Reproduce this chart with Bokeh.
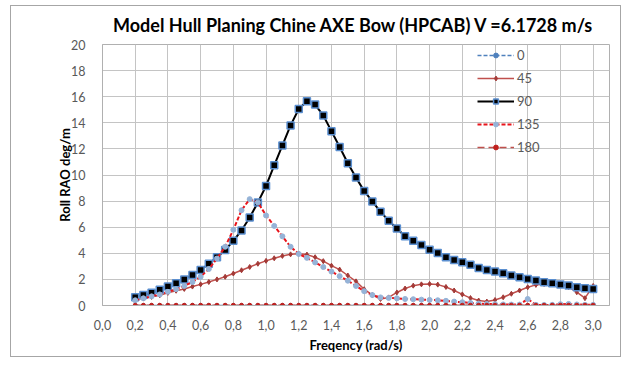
from bokeh.plotting import figure
from bokeh.models import (FixedTicker, CustomJSTickFormatter, Legend, LegendItem, Range1d)
from bokeh.embed import file_html
from bokeh.resources import INLINE

# ---------------- data ----------------
freq = [0.20, 0.25, 0.30, 0.35, 0.40, 0.45, 0.50, 0.55, 0.60, 0.65,
        0.70, 0.75, 0.80, 0.85, 0.90, 0.95, 1.00, 1.05, 1.10, 1.15,
        1.20, 1.25, 1.30, 1.35, 1.40, 1.45, 1.50, 1.55, 1.60, 1.65,
        1.70, 1.75, 1.80, 1.85, 1.90, 1.95, 2.00, 2.05, 2.10, 2.15,
        2.20, 2.25, 2.30, 2.35, 2.40, 2.45, 2.50, 2.55, 2.60, 2.65,
        2.70, 2.75, 2.80, 2.85, 2.90, 2.95, 3.00]

rao_0 = [0.00, 0.00, 0.00, 0.00, 0.00, 0.00, 0.00, 0.00, 0.00, 0.00,
         0.00, 0.00, 0.00, 0.00, 0.00, 0.00, 0.00, 0.00, 0.00, 0.00,
         0.00, 0.00, 0.00, 0.00, 0.00, 0.00, 0.00, 0.00, 0.00, 0.00,
         0.00, 0.00, 0.00, 0.00, 0.00, 0.00, 0.00, 0.00, 0.00, 0.00,
         0.00, 0.00, 0.00, 0.00, 0.00, 0.00, 0.00, 0.00, 0.00, 0.00,
         0.00, 0.00, 0.00, 0.00, 0.00, 0.00, 0.00]

rao_45 = [0.45, 0.55, 0.66, 0.78, 0.97, 1.13, 1.27, 1.45, 1.62, 1.80,
          2.00, 2.20, 2.45, 2.70, 2.95, 3.20, 3.42, 3.62, 3.80, 3.92,
          3.97, 3.90, 3.70, 3.40, 3.05, 2.75, 2.30, 1.85, 1.25, 0.80,
          0.50, 0.62, 1.00, 1.30, 1.52, 1.62, 1.65, 1.60, 1.42, 1.15,
          0.85, 0.57, 0.38, 0.30, 0.42, 0.63, 0.90, 1.15, 1.40, 1.58,
          1.65, 1.65, 1.58, 1.40, 1.02, 0.56, 1.50]

rao_90 = [0.64, 0.81, 0.97, 1.20, 1.45, 1.70, 2.00, 2.34, 2.72, 3.20,
          3.70, 4.25, 4.96, 5.75, 6.74, 7.90, 9.16, 10.74, 12.27, 13.80,
          15.06, 15.65, 15.40, 14.56, 13.36, 12.14, 10.90, 9.80, 8.78, 7.97,
          7.18, 6.50, 5.90, 5.30, 4.96, 4.63, 4.27, 4.02, 3.69, 3.49,
          3.31, 3.13, 2.87, 2.72, 2.60, 2.47, 2.29, 2.16, 2.03, 1.91,
          1.78, 1.70, 1.60, 1.53, 1.40, 1.32, 1.27]

rao_135 = [0.40, 0.55, 0.70, 0.85, 1.05, 1.25, 1.50, 1.80, 2.20, 2.80,
           3.60, 4.50, 5.80, 7.30, 8.15, 7.90, 6.90, 6.10, 5.30, 4.50,
           3.95, 3.65, 3.30, 2.95, 2.60, 2.25, 1.90, 1.50, 1.10, 0.80,
           0.62, 0.58, 0.55, 0.50, 0.48, 0.45, 0.43, 0.40, 0.36, 0.30,
           0.25, 0.20, 0.15, 0.12, 0.10, 0.08, 0.07, 0.07, 0.50, 0.05,
           0.04, 0.05, 0.10, 0.12, 0.08, 0.05, 0.05]

rao_180 = [0.02, 0.02, 0.02, 0.02, 0.02, 0.02, 0.02, 0.02, 0.02, 0.02,
           0.02, 0.02, 0.02, 0.02, 0.02, 0.02, 0.02, 0.02, 0.02, 0.02,
           0.02, 0.02, 0.02, 0.02, 0.02, 0.02, 0.02, 0.02, 0.02, 0.02,
           0.02, 0.02, 0.02, 0.02, 0.02, 0.02, 0.02, 0.02, 0.02, 0.02,
           0.02, 0.02, 0.02, 0.02, 0.02, 0.02, 0.02, 0.02, 0.02, 0.02,
           0.02, 0.02, 0.02, 0.02, 0.02, 0.02, 0.02]

x_ticks = [0.0, 0.2, 0.4, 0.6, 0.8, 1.0, 1.2, 1.4, 1.6, 1.8, 2.0, 2.2, 2.4, 2.6, 2.8, 3.0]
y_ticks = [0, 2, 4, 6, 8, 10, 12, 14, 16, 18, 20]

title = "Model Hull Planing Chine AXE Bow  (HPCAB) V =6.1728 m/s"
x_label = "Freqency (rad/s)"
y_label = "Roll RAO deg/m"

FONT = "Lato"

# ---------------- figure ----------------
# the chart sits inside a 1px grey box from (10,5) to (622,358) of the window
p = figure(width=611, height=352, output_backend="svg", toolbar_location=None,
           x_range=Range1d(0, 3.1), y_range=Range1d(0, 20),
           min_border_left=91, min_border_right=13,
           min_border_top=37, min_border_bottom=53,
           background_fill_color="white", border_fill_color="white",
           styles={"border": "1px solid #a6a6a6", "margin-left": "10px",
                   "margin-top": "5px"})

p.title.text = title
p.title.text_font = FONT
p.title.text_font_size = "18px"
p.title.text_font_style = "bold"
p.title.text_color = "#000000"
p.title.align = "center"
p.title.vertical_align = "top"
p.title.standoff = 14

p.outline_line_color = "#b0b0b0"
p.outline_line_width = 1

for ax in (p.xaxis[0], p.yaxis[0]):
    ax.axis_line_color = "#b0b0b0"
    ax.major_tick_line_color = None
    ax.minor_tick_line_color = None
    ax.major_label_text_font = FONT
    ax.major_label_text_font_size = "12.5px"
    ax.major_label_text_color = "#595959"
    ax.axis_label_text_font = FONT
    ax.axis_label_text_font_size = "13px"
    ax.axis_label_text_font_style = "bold"
    ax.axis_label_text_color = "#000000"

p.xaxis.ticker = FixedTicker(ticks=x_ticks)
p.yaxis.ticker = FixedTicker(ticks=y_ticks)
p.xaxis.formatter = CustomJSTickFormatter(code="return tick.toFixed(1).replace('.', ',');")
p.xaxis.axis_label = x_label
p.yaxis.axis_label = y_label
p.xaxis.major_label_standoff = 8
p.yaxis.major_label_standoff = 11
p.xaxis.axis_label_standoff = 4
p.yaxis.axis_label_standoff = -5

p.xgrid.ticker = FixedTicker(ticks=x_ticks)
p.ygrid.ticker = FixedTicker(ticks=y_ticks)
for g in (p.xgrid[0], p.ygrid[0]):
    g.grid_line_color = "#c4c4c4"
    g.grid_line_width = 1

# ---------------- series ----------------
items = []

l0 = p.line(freq, rao_0, line_color="#4F81BD", line_width=1.5, line_dash="4 2")
m0 = p.scatter(freq, rao_0, marker="circle", size=4, fill_color="#4F81BD", line_color="#4F81BD")
items.append(LegendItem(label="0", renderers=[l0, m0]))

l45 = p.line(freq, rao_45, line_color="#C0504D", line_width=1.5)
m45 = p.scatter(freq, rao_45, marker="diamond", size=5, fill_color="#A33A37", line_color="#A33A37")
items.append(LegendItem(label="45", renderers=[l45, m45]))

l90 = p.line(freq, rao_90, line_color="#000000", line_width=2)
m90 = p.scatter(freq, rao_90, marker="square", size=7, fill_color="#000000",
                line_color="#5B8FD0", line_width=1.5)
items.append(LegendItem(label="90", renderers=[l90, m90]))

l135 = p.line(freq, rao_135, line_color="#E8141B", line_width=2, line_dash="4 2")
m135 = p.scatter(freq, rao_135, marker="circle", size=5, fill_color="#95B3D7", line_color="#95B3D7")
items.append(LegendItem(label="135", renderers=[l135, m135]))

l180 = p.line(freq, rao_180, line_color="#C0504D", line_width=1.5, line_dash="7 4")
m180 = p.scatter(freq, rao_180, marker="circle", size=4, fill_color="#C0201D", line_color="#C0201D")
items.append(LegendItem(label="180", renderers=[l180, m180]))

legend = Legend(items=items, location=(375, 148), orientation="vertical",
                background_fill_alpha=0, border_line_color=None,
                glyph_width=37, glyph_height=12, label_height=20,
                label_standoff=3, spacing=3, padding=0, margin=0,
                label_text_font=FONT, label_text_font_size="13px",
                label_text_color="#595959")
p.add_layout(legend, "center")

open("out.html", "w").write(file_html(p, INLINE))
